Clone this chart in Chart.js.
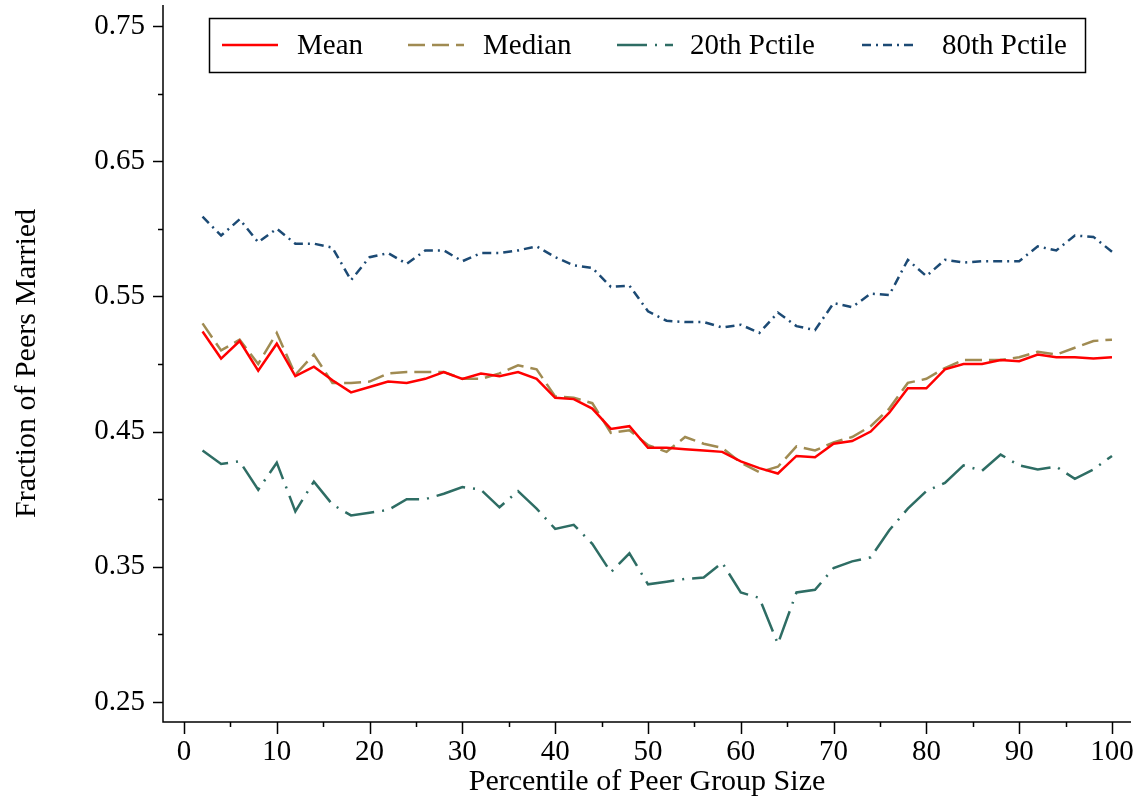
<!DOCTYPE html>
<html>
<head>
<meta charset="utf-8">
<title>Fraction of Peers Married</title>
<script src="https://cdn.jsdelivr.net/npm/chart.js@4.4.1/dist/chart.umd.min.js"></script>
<style>
  html, body { margin: 0; padding: 0; background: #fff; }
  #wrap { width: 1142px; height: 804px; }
</style>
</head>
<body>
<div id="wrap"><canvas id="peerChart" width="1142" height="804"></canvas></div>
<script>
const PCTILE = [2, 4, 6, 8, 10, 12, 14, 16, 18, 20, 22, 24, 26, 28, 30, 32, 34, 36, 38, 40,
  42, 44, 46, 48, 50, 52, 54, 56, 58, 60, 62, 64, 66, 68, 70, 72, 74, 76, 78, 80,
  82, 84, 86, 88, 90, 92, 94, 96, 98, 100];

const MEAN = [0.524, 0.504, 0.517, 0.495, 0.515, 0.491, 0.498, 0.488, 0.479, 0.483,
  0.487, 0.486, 0.489, 0.494, 0.489, 0.493, 0.491, 0.494, 0.489, 0.475,
  0.474, 0.467, 0.452, 0.454, 0.438, 0.438, 0.437, 0.436, 0.435, 0.428,
  0.423, 0.419, 0.432, 0.431, 0.441, 0.443, 0.450, 0.464, 0.482, 0.482,
  0.496, 0.500, 0.500, 0.503, 0.502, 0.507, 0.505, 0.505, 0.504, 0.505];

const MEDIAN = [0.530, 0.510, 0.518, 0.500, 0.523, 0.492, 0.507, 0.486, 0.486, 0.487,
  0.493, 0.494, 0.494, 0.494, 0.489, 0.489, 0.493, 0.499, 0.496, 0.476,
  0.475, 0.471, 0.449, 0.451, 0.440, 0.435, 0.446, 0.441, 0.438, 0.427,
  0.420, 0.424, 0.439, 0.436, 0.442, 0.446, 0.454, 0.467, 0.486, 0.489,
  0.497, 0.503, 0.503, 0.503, 0.505, 0.509, 0.507, 0.512, 0.517, 0.518];

const P20 = [0.436, 0.426, 0.428, 0.407, 0.427, 0.391, 0.413, 0.396, 0.388, 0.390,
  0.392, 0.400, 0.400, 0.404, 0.409, 0.407, 0.394, 0.406, 0.393, 0.378,
  0.381, 0.367, 0.346, 0.360, 0.337, 0.339, 0.341, 0.342, 0.353, 0.331,
  0.327, 0.293, 0.331, 0.333, 0.349, 0.354, 0.357, 0.377, 0.393, 0.406,
  0.412, 0.425, 0.421, 0.433, 0.425, 0.422, 0.424, 0.415, 0.422, 0.432];

const P80 = [0.609, 0.595, 0.607, 0.590, 0.600, 0.589, 0.589, 0.586, 0.562, 0.579,
  0.582, 0.574, 0.584, 0.584, 0.576, 0.582, 0.582, 0.584, 0.587, 0.579,
  0.573, 0.571, 0.557, 0.558, 0.539, 0.532, 0.531, 0.531, 0.527, 0.529,
  0.523, 0.538, 0.528, 0.525, 0.545, 0.542, 0.552, 0.551, 0.577, 0.565,
  0.577, 0.575, 0.576, 0.576, 0.576, 0.587, 0.584, 0.595, 0.594, 0.583];

const X_MAJOR = [0, 10, 20, 30, 40, 50, 60, 70, 80, 90, 100];
const X_MINOR = [5, 15, 25, 35, 45, 55, 65, 75, 85, 95];
const Y_MAJOR = [0.25, 0.35, 0.45, 0.55, 0.65, 0.75];
const Y_MINOR = [0.30, 0.40, 0.50, 0.60, 0.70];

const SERIES_NAMES = ["Mean", "Median", "20th Pctile", "80th Pctile"];

const SERIF = '"Liberation Serif", "Times New Roman", serif';

function pairs(ys) {
  return PCTILE.map((x, i) => ({ x, y: ys[i] }));
}

function setTicks(major, minor) {
  return (scale) => {
    scale.ticks = [...major, ...minor].sort((a, b) => a - b).map((v) => ({ value: v }));
  };
}

function isMajor(list, v) {
  return list.some((m) => Math.abs(m - v) < 1e-9);
}

// fixed axis box, and no extra margin reserved for overhanging labels
function fitAxis(size) {
  return (s) => {
    if (s.isHorizontal()) s.height = size;
    else s.width = size;
    s.paddingTop = 0;
    s.paddingBottom = 0;
    s.paddingLeft = 0;
    s.paddingRight = 0;
  };
}

// axis lines with long major and short minor tick marks
const axesPlugin = {
  id: "axes",
  afterDraw(chart) {
    const { ctx, chartArea: a, scales: { x, y } } = chart;
    ctx.save();
    ctx.strokeStyle = "#000";
    ctx.lineWidth = 1.5;
    ctx.beginPath();
    ctx.moveTo(a.left, a.top);
    ctx.lineTo(a.left, a.bottom);
    ctx.lineTo(a.right, a.bottom);
    ctx.stroke();
    ctx.beginPath();
    Y_MAJOR.concat(Y_MINOR).forEach((v) => {
      const py = Math.round(y.getPixelForValue(v)) + 0.5;
      ctx.moveTo(a.left, py);
      ctx.lineTo(a.left - (isMajor(Y_MAJOR, v) ? 10 : 5), py);
    });
    X_MAJOR.concat(X_MINOR).forEach((v) => {
      const px = Math.round(x.getPixelForValue(v)) + 0.5;
      ctx.moveTo(px, a.bottom);
      ctx.lineTo(px, a.bottom + (isMajor(X_MAJOR, v) ? 12 : 5));
    });
    ctx.stroke();
    ctx.restore();
  },
};

// boxed legend sitting inside the plot, one row
const boxLegendPlugin = {
  id: "boxLegend",
  afterDraw(chart) {
    const { ctx } = chart;
    const lineStart = [222, 408, 617, 862];
    const textStart = [297, 483, 690, 942];
    const cy = 45;
    ctx.save();
    ctx.strokeStyle = "#000";
    ctx.lineWidth = 1.5;
    ctx.strokeRect(209.5, 18.5, 876, 54);
    ctx.font = "29px " + SERIF;
    ctx.textBaseline = "middle";
    ctx.fillStyle = "#000";
    chart.data.datasets.forEach((ds, i) => {
      ctx.save();
      ctx.strokeStyle = ds.borderColor;
      ctx.lineWidth = ds.borderWidth;
      ctx.setLineDash(ds.borderDash || []);
      ctx.beginPath();
      ctx.moveTo(lineStart[i], cy);
      ctx.lineTo(lineStart[i] + 56, cy);
      ctx.stroke();
      ctx.restore();
      ctx.fillText(ds.label, textStart[i], cy + 1);
    });
    ctx.restore();
  },
};

function line(label, ys, color, dash) {
  return {
    label,
    data: pairs(ys),
    borderColor: color,
    backgroundColor: color,
    borderWidth: 2.5,
    borderDash: dash,
    pointRadius: 0,
    tension: 0,
    fill: false,
  };
}

new Chart(document.getElementById("peerChart"), {
  type: "line",
  data: {
    datasets: [
      line(SERIES_NAMES[0], MEAN, "#ff0000", []),
      line(SERIES_NAMES[1], MEDIAN, "#a08b52", [17, 7]),
      line(SERIES_NAMES[2], P20, "#2e6d64", [30, 8, 2, 8]),
      line(SERIES_NAMES[3], P80, "#1c4a74", [9, 5, 2, 5]),
    ],
  },
  options: {
    responsive: false,
    devicePixelRatio: 1,
    animation: false,
    layout: { padding: { left: 0, right: 11, top: 5, bottom: 0 } },
    plugins: {
      legend: { display: false },
      tooltip: { enabled: false },
    },
    scales: {
      x: {
        type: "linear",
        min: -2.26,
        max: 102.05,
        afterBuildTicks: setTicks(X_MAJOR, X_MINOR),
        afterFit: fitAxis(82),
        grid: { display: false, drawTicks: false },
        border: { display: false },
        ticks: {
          autoSkip: false,
          maxRotation: 0,
          padding: 13,
          color: "#000",
          font: { family: SERIF, size: 29 },
          callback: (v) => (isMajor(X_MAJOR, v) ? String(v) : ""),
        },
        title: {
          display: true,
          text: "Percentile of Peer Group Size",
          color: "#000",
          font: { family: SERIF, size: 30 },
          padding: { top: 0, bottom: 4 },
        },
      },
      y: {
        type: "linear",
        min: 0.2352,
        max: 0.7655,
        afterBuildTicks: setTicks(Y_MAJOR, Y_MINOR),
        afterFit: fitAxis(163),
        grid: { display: false, drawTicks: false },
        border: { display: false },
        ticks: {
          autoSkip: false,
          padding: 18,
          color: "#000",
          font: { family: SERIF, size: 29 },
          callback: (v) => (isMajor(Y_MAJOR, v) ? v.toFixed(2) : ""),
        },
        title: {
          display: true,
          text: "Fraction of Peers Married",
          color: "#000",
          font: { family: SERIF, size: 30 },
          padding: { top: 9, bottom: 0 },
        },
      },
    },
  },
  plugins: [axesPlugin, boxLegendPlugin],
});
</script>
</body>
</html>
